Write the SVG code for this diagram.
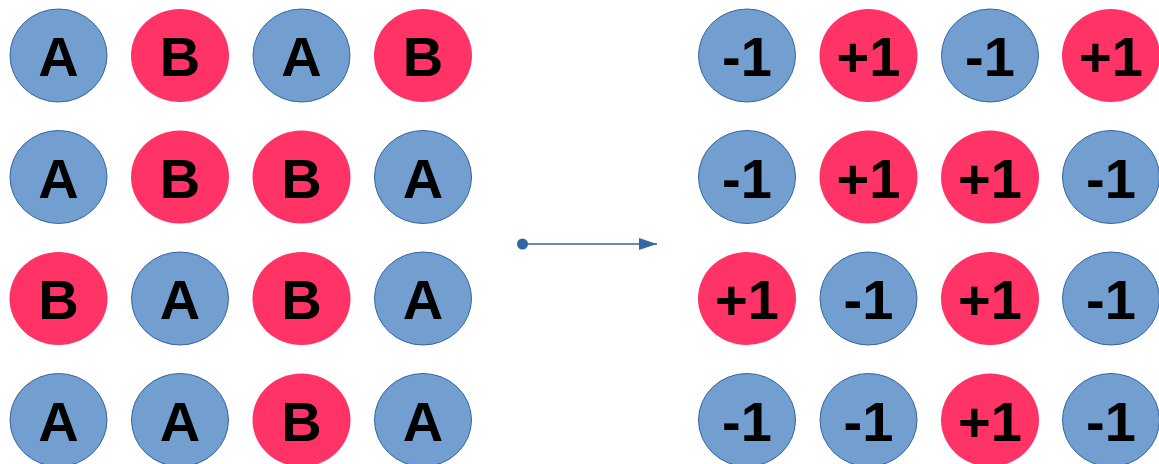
<svg xmlns="http://www.w3.org/2000/svg" width="1159" height="464" viewBox="0 0 1159 464">
<style>
.a{fill:#729fcf;stroke:#3465a4;stroke-width:1}
.b{fill:#ff3366}
text{font-family:"Liberation Sans",Arial,sans-serif;font-weight:bold;font-size:56px;text-anchor:middle;fill:#000}
</style>
<defs>
<marker id="ah" viewBox="0 0 18 12" refX="18" refY="6" markerWidth="18" markerHeight="12" markerUnits="userSpaceOnUse" orient="auto"><path d="M0,0L18,6L0,12Z" fill="#3465a4"/></marker>
</defs>
<g id="left">
<g id="n-1-1"><ellipse class="a" cx="58.5" cy="55.5" rx="48.5" ry="46.5"/><text x="58.5" y="76">A</text></g>
<g id="n-1-2"><ellipse class="b" cx="180" cy="55.5" rx="49" ry="46.5"/><text x="180" y="76">B</text></g>
<g id="n-1-3"><ellipse class="a" cx="301.5" cy="55.5" rx="48.5" ry="46.5"/><text x="301.5" y="76">A</text></g>
<g id="n-1-4"><ellipse class="b" cx="423" cy="55.5" rx="49" ry="46.5"/><text x="423" y="76">B</text></g>
<g id="n-2-1"><ellipse class="a" cx="58.5" cy="177" rx="48.5" ry="46.5"/><text x="58.5" y="197.5">A</text></g>
<g id="n-2-2"><ellipse class="b" cx="180" cy="177" rx="49" ry="46.5"/><text x="180" y="197.5">B</text></g>
<g id="n-2-3"><ellipse class="b" cx="301.5" cy="177" rx="49" ry="46.5"/><text x="301.5" y="197.5">B</text></g>
<g id="n-2-4"><ellipse class="a" cx="423" cy="177" rx="48.5" ry="46.5"/><text x="423" y="197.5">A</text></g>
<g id="n-3-1"><ellipse class="b" cx="58.5" cy="298.5" rx="49" ry="46.5"/><text x="58.5" y="319">B</text></g>
<g id="n-3-2"><ellipse class="a" cx="180" cy="298.5" rx="48.5" ry="46.5"/><text x="180" y="319">A</text></g>
<g id="n-3-3"><ellipse class="b" cx="301.5" cy="298.5" rx="49" ry="46.5"/><text x="301.5" y="319">B</text></g>
<g id="n-3-4"><ellipse class="a" cx="423" cy="298.5" rx="48.5" ry="46.5"/><text x="423" y="319">A</text></g>
<g id="n-4-1"><ellipse class="a" cx="58.5" cy="420" rx="48.5" ry="46.5"/><text x="58.5" y="440.5">A</text></g>
<g id="n-4-2"><ellipse class="a" cx="180" cy="420" rx="48.5" ry="46.5"/><text x="180" y="440.5">A</text></g>
<g id="n-4-3"><ellipse class="b" cx="301.5" cy="420" rx="49" ry="46.5"/><text x="301.5" y="440.5">B</text></g>
<g id="n-4-4"><ellipse class="a" cx="423" cy="420" rx="48.5" ry="46.5"/><text x="423" y="440.5">A</text></g>
</g>
<g id="right">
<g id="m-1-1"><ellipse class="a" cx="747" cy="55.5" rx="48.5" ry="46.5"/><text x="747" y="76">-1</text></g>
<g id="m-1-2"><ellipse class="b" cx="868.5" cy="55.5" rx="49" ry="46.5"/><text x="868.5" y="76">+1</text></g>
<g id="m-1-3"><ellipse class="a" cx="990" cy="55.5" rx="48.5" ry="46.5"/><text x="990" y="76">-1</text></g>
<g id="m-1-4"><ellipse class="b" cx="1111" cy="55.5" rx="49" ry="46.5"/><text x="1111" y="76">+1</text></g>
<g id="m-2-1"><ellipse class="a" cx="747" cy="177" rx="48.5" ry="46.5"/><text x="747" y="197.5">-1</text></g>
<g id="m-2-2"><ellipse class="b" cx="868.5" cy="177" rx="49" ry="46.5"/><text x="868.5" y="197.5">+1</text></g>
<g id="m-2-3"><ellipse class="b" cx="990" cy="177" rx="49" ry="46.5"/><text x="990" y="197.5">+1</text></g>
<g id="m-2-4"><ellipse class="a" cx="1111" cy="177" rx="48.5" ry="46.5"/><text x="1111" y="197.5">-1</text></g>
<g id="m-3-1"><ellipse class="b" cx="747" cy="298.5" rx="49" ry="46.5"/><text x="747" y="319">+1</text></g>
<g id="m-3-2"><ellipse class="a" cx="868.5" cy="298.5" rx="48.5" ry="46.5"/><text x="868.5" y="319">-1</text></g>
<g id="m-3-3"><ellipse class="b" cx="990" cy="298.5" rx="49" ry="46.5"/><text x="990" y="319">+1</text></g>
<g id="m-3-4"><ellipse class="a" cx="1111" cy="298.5" rx="48.5" ry="46.5"/><text x="1111" y="319">-1</text></g>
<g id="m-4-1"><ellipse class="a" cx="747" cy="420" rx="48.5" ry="46.5"/><text x="747" y="440.5">-1</text></g>
<g id="m-4-2"><ellipse class="a" cx="868.5" cy="420" rx="48.5" ry="46.5"/><text x="868.5" y="440.5">-1</text></g>
<g id="m-4-3"><ellipse class="b" cx="990" cy="420" rx="49" ry="46.5"/><text x="990" y="440.5">+1</text></g>
<g id="m-4-4"><ellipse class="a" cx="1111" cy="420" rx="48.5" ry="46.5"/><text x="1111" y="440.5">-1</text></g>
</g>
<g id="connectors">
<circle cx="522.5" cy="244" r="5.5" fill="#3465a4"/>
<line x1="522.5" y1="244" x2="657" y2="244" stroke="#3465a4" stroke-width="1.5" marker-end="url(#ah)"/>
</g>
</svg>
